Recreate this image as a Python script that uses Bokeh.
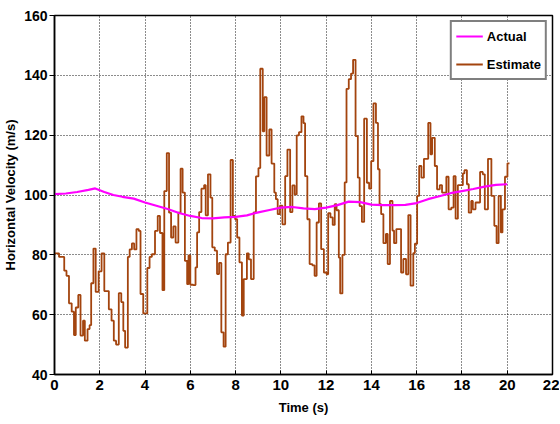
from bokeh.plotting import figure
from bokeh.models import Legend, LegendItem, FixedTicker, Range1d
from bokeh.embed import file_html
from bokeh.resources import INLINE

# Actual horizontal velocity (smooth)
time_actual = [0, 0.5, 1.0, 1.5, 1.8, 2.2, 2.6, 3.0, 3.5, 4.0, 4.5, 5.0, 5.5, 6.0,
               6.5, 7.0, 7.5, 8.0, 8.5, 9.0, 9.5, 10.0, 10.5, 11.0, 11.5, 12.0,
               12.5, 13.0, 13.5, 14.0, 14.5, 15.0, 15.5, 16.0, 16.5, 17.0, 17.5,
               18.0, 18.5, 19.0, 19.5, 20.0]
vel_actual = [100.3, 100.5, 101.0, 101.7, 102.2, 101.0, 100.0, 99.4, 98.8, 97.5,
              96.4, 95.3, 94.0, 93.0, 92.3, 92.2, 92.5, 92.7, 93.2, 94.2, 95.0,
              95.8, 96.0, 95.5, 95.3, 95.8, 96.6, 97.8, 97.6, 96.8, 96.6, 96.6,
              96.7, 97.3, 98.6, 99.6, 100.6, 101.3, 102.0, 102.8, 103.4, 103.6]

# Estimated horizontal velocity (sample-and-hold steps)
time_est = [0.00, 0.20, 0.43, 0.53, 0.64, 0.76, 0.86, 0.94, 1.05, 1.15, 1.26, 1.34,
            1.46, 1.55, 1.62, 1.72, 1.82, 1.95, 2.08, 2.20, 2.40, 2.52, 2.62, 2.72,
            2.84, 2.95, 3.04, 3.12, 3.24, 3.32, 3.42, 3.52, 3.62, 3.72, 3.80, 3.92,
            4.10, 4.20, 4.30, 4.44, 4.56, 4.66, 4.77, 4.85, 4.96, 5.06, 5.15, 5.25,
            5.35, 5.47, 5.57, 5.66, 5.76, 5.86, 5.92, 6.00, 6.13, 6.23, 6.30, 6.39,
            6.49, 6.61, 6.68, 6.78, 6.89, 6.97, 7.08, 7.18, 7.27, 7.37, 7.47, 7.56,
            7.66, 7.78, 7.88, 7.98, 8.07, 8.17, 8.28, 8.36, 8.50, 8.58, 8.68, 8.80,
            8.90, 9.01, 9.09, 9.20, 9.27, 9.37, 9.49, 9.59, 9.71, 9.78, 9.86, 9.96,
            10.07, 10.19, 10.29, 10.41, 10.51, 10.61, 10.70, 10.80, 10.91, 11.00,
            11.07, 11.17, 11.27, 11.39, 11.49, 11.58, 11.68, 11.78, 11.90, 12.02,
            12.09, 12.19, 12.29, 12.38, 12.46, 12.56, 12.62, 12.72, 12.82, 12.90,
            13.00, 13.10, 13.19, 13.30, 13.40, 13.48, 13.58, 13.68, 13.80, 13.90,
            13.99, 14.09, 14.20, 14.29, 14.36, 14.43, 14.53, 14.64, 14.72, 14.82,
            14.93, 15.00, 15.10, 15.31, 15.41, 15.53, 15.63, 15.73, 15.85, 15.92,
            16.02, 16.11, 16.21, 16.32, 16.51, 16.61, 16.68, 16.80, 16.90, 17.02,
            17.12, 17.31, 17.41, 17.53, 17.63, 17.72, 17.82, 18.04, 18.11, 18.22,
            18.30, 18.41, 18.48, 18.60, 18.80, 18.92, 19.01, 19.15, 19.30, 19.43,
            19.53, 19.62, 19.72, 19.79, 19.90, 20.01, 20.10]
vel_est = [80.5, 79.3, 74.7, 73.0, 63.8, 61.0, 53.2, 62.4, 66.6, 53.0, 58.0, 51.3,
           55.2, 56.5, 70.5, 82.1, 67.6, 74.5, 80.5, 67.9, 61.8, 58.0, 51.3, 50.0,
           67.2, 64.2, 54.6, 49.0, 79.3, 81.8, 83.8, 81.8, 88.6, 88.0, 66.9, 60.4,
           75.6, 79.3, 80.2, 88.0, 93.0, 87.3, 68.2, 101.3, 114.0, 94.1, 85.8, 89.5,
           84.1, 94.1, 108.8, 100.8, 78.0, 70.2, 79.8, 70.0, 69.9, 75.8, 87.5, 94.3,
           102.1, 103.3, 93.2, 106.9, 99.1, 82.5, 81.4, 73.6, 77.3, 54.1, 49.3, 80.2,
           84.1, 111.7, 93.0, 91.9, 85.8, 77.5, 59.7, 71.9, 80.5, 78.5, 71.9, 94.2,
           106.2, 109.0, 142.2, 121.3, 132.7, 113.2, 121.9, 110.5, 100.8, 98.6, 93.6, 96.4,
           90.2, 106.3, 115.2, 94.3, 103.2, 100.2, 119.9, 121.0, 126.3, 124.0,
           106.3, 91.9, 76.9, 76.5, 73.0, 90.8, 97.2, 81.9, 74.1, 73.5,
           93.9, 92.5, 90.0, 96.9, 94.9, 79.1, 67.1, 80.0, 104.2, 135.5,
           138.7, 140.6, 145.2, 119.7, 105.8, 96.3, 91.0, 125.5, 104.1, 102.1,
           111.3, 130.6, 124.1, 108.6, 96.9, 93.6, 83.9, 87.0, 76.9, 98.0,
           88.1, 83.9, 88.6, 74.1, 78.6, 73.5, 93.3, 69.7, 80.6, 83.7,
           99.7, 109.7, 105.8, 112.1, 124.1, 113.6, 119.1, 109.7, 101.9, 103.3,
           100.8, 106.1, 95.2, 95.8, 106.3, 92.1, 103.3, 107.2, 108.3, 103.6,
           94.1, 98.0, 95.2, 97.5, 107.7, 106.9, 95.2, 112.1, 99.7, 89.7,
           83.9, 99.7, 87.5, 95.2, 106.1, 110.6, 110.6]

x_ticks = list(range(0, 23, 2))
y_ticks = list(range(40, 161, 20))

FONT = "Liberation Sans"

p = figure(width=559, height=422, output_backend="svg", toolbar_location=None,
           x_range=Range1d(0, 22), y_range=Range1d(40, 160),
           min_border_left=51, min_border_right=7, min_border_top=15,
           min_border_bottom=48)
p.background_fill_color = "white"
p.border_fill_color = "white"
p.outline_line_color = "black"
p.outline_line_width = 1.5
p.outline_line_alpha = 1.0

r_est = p.step(time_est, vel_est, mode="after", line_color="#A3440E", line_width=1.8)
r_act = p.line(time_actual, vel_actual, line_color="#FF00FF", line_width=2.2)

for ax in (p.xaxis[0], p.yaxis[0]):
    ax.axis_line_color = "black"
    ax.axis_line_width = 1.5
    ax.major_tick_line_color = "black"
    ax.minor_tick_line_color = None
    ax.major_label_text_font = FONT
    ax.major_label_text_font_style = "bold"
    ax.major_label_text_color = "black"
    ax.axis_label_text_color = "black"
    ax.axis_label_text_font_style = "bold"
    ax.axis_label_text_font = FONT

p.xaxis.major_label_text_font_size = "15px"
p.yaxis.major_label_text_font_size = "14px"
p.xaxis.ticker = FixedTicker(ticks=x_ticks)
p.yaxis.ticker = FixedTicker(ticks=y_ticks)
p.xaxis.major_tick_in = 4
p.xaxis.major_tick_out = 0
p.yaxis.major_tick_in = 0
p.yaxis.major_tick_out = 5
p.xaxis.major_label_standoff = 5
p.yaxis.major_label_standoff = 2

p.xaxis.axis_label = "Time (s)"
p.xaxis.axis_label_text_font_size = "13px"
p.xaxis.axis_label_standoff = 7
p.yaxis.axis_label = "Horizontal Velocity (m/s)"
p.yaxis.axis_label_text_font_size = "13px"
p.yaxis.axis_label_standoff = 3

for g in (p.xgrid[0], p.ygrid[0]):
    g.grid_line_color = "black"
    g.grid_line_dash = "1 2"
    g.grid_line_width = 1
    g.grid_line_alpha = 0.9
p.xgrid.ticker = FixedTicker(ticks=x_ticks)
p.ygrid.ticker = FixedTicker(ticks=y_ticks)

legend = Legend(items=[LegendItem(label="Actual", renderers=[r_act]),
                       LegendItem(label="Estimate", renderers=[r_est])],
                location="top_right")
legend.label_text_font = FONT
legend.label_text_font_style = "bold"
legend.label_text_font_size = "13px"
legend.label_text_color = "black"
legend.border_line_color = "black"
legend.border_line_width = 2
legend.background_fill_alpha = 1.0
legend.margin = 5
legend.padding = 4
legend.spacing = 8
legend.glyph_width = 27
legend.label_standoff = 4
p.add_layout(legend)

open("out.html", "w").write(file_html(p, INLINE))
